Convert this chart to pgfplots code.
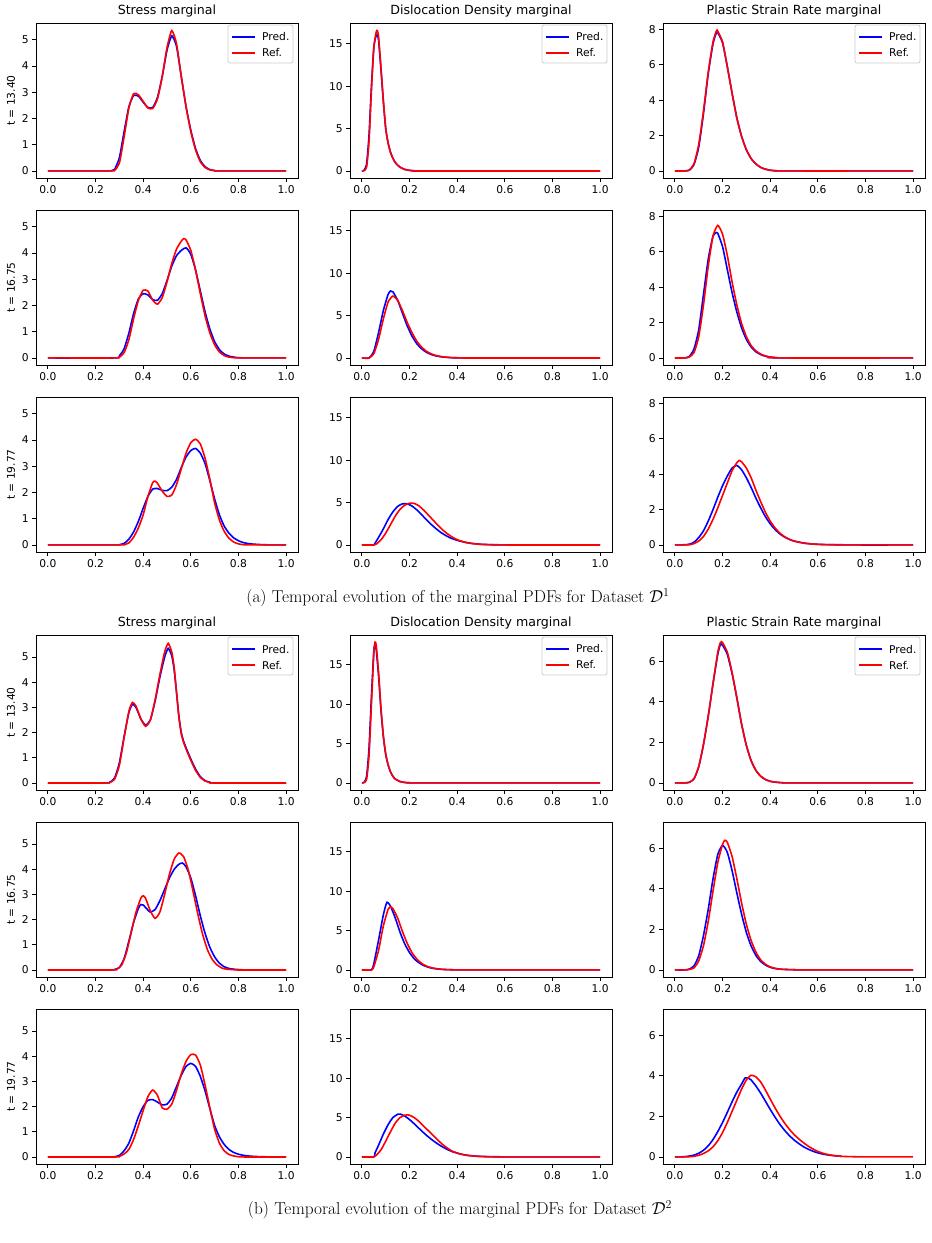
\documentclass[border=0pt]{standalone}
\usepackage{fontspec}
\usepackage{pgfplots}
\pgfplotsset{compat=1.18}
\newfontfamily\djv{DejaVu Sans}
\newcommand{\tf}{\djv\fontsize{10.7}{12.5}\selectfont}
\pgfplotsset{
 mp/.style={
  scale only axis, width=262pt, height=155pt,
  anchor=north west,
  xmin=-0.05, xmax=1.05,
  xtick={0,0.2,0.4,0.6,0.8,1},
  xticklabel style={/pgf/number format/.cd, fixed, fixed zerofill, precision=1},
  /pgf/number format/assume math mode=true,
  tick label style={font=\tf, text=black},
  tick align=outside, tick pos=left,
  major tick length=3.7pt,
  every tick/.style={black, line width=0.85pt},
  axis line style={black, line width=0.85pt},
  title style={font=\djv\fontsize{12.6}{14}\selectfont, yshift=-4pt},
  ylabel style={font=\tf},
 },
 sa/.style={mp, ymin=-0.27, ymax=5.64, ytick={0,1,2,3,4,5}},
 da/.style={mp, ymin=-0.83, ymax=17.45, ytick={0,5,10,15}},
 pa/.style={mp, ymin=-0.4, ymax=8.37, ytick={0,2,4,6,8}},
 sb/.style={mp, ymin=-0.28, ymax=5.88, ytick={0,1,2,3,4,5}},
 db/.style={mp, ymin=-0.9, ymax=18.8, ytick={0,5,10,15}},
 pb/.style={mp, ymin=-0.35, ymax=7.3, ytick={0,2,4,6}},
 predline/.style={color=blue, line width=1.6pt, smooth, tension=0.35},
 refline/.style={color=red, line width=1.6pt, smooth, tension=0.35},
}
\newcommand{\leg}{%
\filldraw[draw=black!20, fill=white, rounded corners=2pt, line width=0.8pt] ([xshift=-70pt,yshift=-2pt]rel axis cs:1,1) rectangle ([xshift=-5pt,yshift=-40pt]rel axis cs:1,1);
\fill[fill=blue] ([xshift=-66pt,yshift=-13pt]rel axis cs:1,1) rectangle ([xshift=-43pt,yshift=-15pt]rel axis cs:1,1);
\fill[fill=red] ([xshift=-66pt,yshift=-29pt]rel axis cs:1,1) rectangle ([xshift=-43pt,yshift=-31pt]rel axis cs:1,1);
\node[anchor=west, font=\tf, inner sep=0pt] at ([xshift=-36pt,yshift=-14pt]rel axis cs:1,1) {Pred.};
\node[anchor=west, font=\tf, inner sep=0pt] at ([xshift=-36pt,yshift=-30pt]rel axis cs:1,1) {Ref.};}
\begin{document}
\begin{tikzpicture}
\useasboundingbox (0,0) rectangle (932pt,-1243pt);
%%%%%%%%%%%%%%%%%%%% GROUP A %%%%%%%%%%%%%%%%%%%%
% row 1
\begin{axis}[sa, at={(36pt,-23pt)}, title={Stress marginal}, ylabel={t = 13.40}]
\addplot[predline] coordinates {(0,0)(0.25,0)(0.27,0.02)(0.28,0.06)(0.30,0.5)(0.32,1.5)(0.34,2.45)(0.36,2.88)(0.38,2.85)(0.40,2.62)(0.42,2.42)(0.44,2.42)(0.46,2.8)(0.48,3.6)(0.50,4.6)(0.52,5.15)(0.54,4.75)(0.56,3.6)(0.58,2.45)(0.60,1.55)(0.62,0.85)(0.64,0.4)(0.66,0.16)(0.68,0.05)(0.70,0.015)(0.72,0)(1,0)};
\addplot[refline] coordinates {(0,0)(0.26,0)(0.28,0.02)(0.30,0.3)(0.32,1.3)(0.34,2.4)(0.36,2.95)(0.38,2.9)(0.40,2.65)(0.42,2.4)(0.44,2.38)(0.46,2.75)(0.48,3.6)(0.50,4.7)(0.52,5.35)(0.54,4.85)(0.56,3.6)(0.58,2.45)(0.60,1.5)(0.62,0.8)(0.64,0.35)(0.66,0.13)(0.68,0.04)(0.70,0.01)(0.72,0)(1,0)};
\leg
\end{axis}
\begin{axis}[da, at={(350pt,-23pt)}, title={Dislocation Density marginal}]
\addplot[predline] coordinates {(0,0)(0.01,0.1)(0.02,0.9)(0.03,4.3)(0.04,10)(0.05,14.6)(0.06,16.0)(0.065,16.0)(0.07,15.4)(0.08,12.0)(0.09,8.2)(0.10,5.0)(0.11,3.3)(0.12,2.2)(0.13,1.5)(0.14,1.0)(0.15,0.68)(0.16,0.45)(0.18,0.18)(0.20,0.07)(0.22,0.02)(0.25,0)(1,0)};
\addplot[refline] coordinates {(0,0)(0.01,0.05)(0.02,0.5)(0.03,3.5)(0.04,9.5)(0.05,14.5)(0.06,16.4)(0.065,16.55)(0.07,15.8)(0.08,12.2)(0.09,8.3)(0.10,5.0)(0.11,3.3)(0.12,2.2)(0.13,1.5)(0.14,1.0)(0.15,0.68)(0.16,0.45)(0.18,0.18)(0.20,0.07)(0.22,0.02)(0.25,0)(1,0)};
\leg
\end{axis}
\begin{axis}[pa, at={(663pt,-23pt)}, title={Plastic Strain Rate marginal}]
\addplot[predline] coordinates {(0,0)(0.04,0)(0.06,0.04)(0.08,0.35)(0.10,1.35)(0.12,3.25)(0.14,5.5)(0.16,7.2)(0.175,7.85)(0.18,7.82)(0.20,7.25)(0.22,5.9)(0.24,4.4)(0.26,3.0)(0.28,1.95)(0.30,1.2)(0.32,0.7)(0.34,0.4)(0.36,0.2)(0.38,0.1)(0.40,0.04)(0.42,0.015)(0.45,0)(1,0)};
\addplot[refline] coordinates {(0,0)(0.04,0)(0.06,0.05)(0.08,0.4)(0.10,1.5)(0.12,3.4)(0.14,5.6)(0.16,7.3)(0.175,7.95)(0.18,7.9)(0.20,7.3)(0.22,5.9)(0.24,4.4)(0.26,3.0)(0.28,1.95)(0.30,1.2)(0.32,0.7)(0.34,0.4)(0.36,0.2)(0.38,0.1)(0.40,0.04)(0.42,0.015)(0.45,0)(1,0)};
\leg
\end{axis}
% row 2
\begin{axis}[sa, at={(36pt,-210pt)}, ylabel={t = 16.75}]
\addplot[predline] coordinates {(0,0)(0.28,0)(0.30,0.08)(0.32,0.35)(0.34,0.95)(0.36,1.7)(0.38,2.25)(0.40,2.45)(0.42,2.4)(0.44,2.22)(0.46,2.2)(0.48,2.45)(0.50,2.95)(0.52,3.5)(0.54,3.9)(0.56,4.1)(0.58,4.2)(0.60,3.95)(0.62,3.35)(0.64,2.55)(0.66,1.75)(0.68,1.1)(0.70,0.62)(0.72,0.32)(0.74,0.15)(0.76,0.07)(0.78,0.03)(0.80,0.01)(0.83,0)(1,0)};
\addplot[refline] coordinates {(0,0)(0.28,0)(0.30,0.03)(0.32,0.2)(0.34,0.7)(0.36,1.5)(0.38,2.2)(0.40,2.58)(0.42,2.55)(0.44,2.2)(0.46,2.05)(0.48,2.3)(0.50,2.9)(0.52,3.6)(0.54,4.15)(0.56,4.45)(0.57,4.55)(0.58,4.5)(0.60,4.1)(0.62,3.35)(0.64,2.45)(0.66,1.6)(0.68,0.95)(0.70,0.5)(0.72,0.23)(0.74,0.09)(0.76,0.03)(0.78,0.01)(0.80,0)(1,0)};
\end{axis}
\begin{axis}[da, at={(350pt,-210pt)}]
\addplot[predline] coordinates {(0,0)(0.03,0)(0.05,0.8)(0.07,3.0)(0.09,5.6)(0.11,7.5)(0.12,7.9)(0.13,7.8)(0.15,6.8)(0.17,5.3)(0.19,3.8)(0.21,2.6)(0.23,1.7)(0.25,1.1)(0.27,0.68)(0.29,0.42)(0.31,0.25)(0.34,0.11)(0.38,0.03)(0.42,0.01)(0.45,0)(1,0)};
\addplot[refline] coordinates {(0,0)(0.03,0)(0.05,0.5)(0.07,2.2)(0.09,4.6)(0.11,6.6)(0.13,7.3)(0.15,6.8)(0.17,5.6)(0.19,4.2)(0.21,3.0)(0.23,2.0)(0.25,1.3)(0.27,0.8)(0.29,0.5)(0.31,0.3)(0.34,0.13)(0.38,0.04)(0.42,0.01)(0.45,0)(1,0)};
\end{axis}
\begin{axis}[pa, at={(663pt,-210pt)}]
\addplot[predline] coordinates {(0,0)(0.04,0)(0.06,0.08)(0.08,0.5)(0.10,1.6)(0.12,3.6)(0.14,5.6)(0.16,6.9)(0.175,7.1)(0.18,7.05)(0.20,6.3)(0.22,5.0)(0.24,3.7)(0.26,2.6)(0.28,1.7)(0.30,1.05)(0.32,0.62)(0.34,0.35)(0.36,0.19)(0.38,0.1)(0.40,0.05)(0.42,0.02)(0.45,0)(1,0)};
\addplot[refline] coordinates {(0,0)(0.04,0)(0.06,0.05)(0.08,0.3)(0.10,1.2)(0.12,3.0)(0.14,5.2)(0.16,6.9)(0.18,7.5)(0.20,7.0)(0.22,5.8)(0.24,4.3)(0.26,3.0)(0.28,1.95)(0.30,1.2)(0.32,0.7)(0.34,0.4)(0.36,0.22)(0.38,0.11)(0.40,0.05)(0.42,0.02)(0.45,0)(1,0)};
\end{axis}
% row 3
\begin{axis}[sa, at={(36pt,-397pt)}, ylabel={t = 19.77}]
\addplot[predline] coordinates {(0,0)(0.28,0)(0.30,0.01)(0.32,0.06)(0.34,0.22)(0.36,0.5)(0.38,0.9)(0.40,1.4)(0.42,1.85)(0.44,2.13)(0.46,2.15)(0.48,2.08)(0.50,2.07)(0.52,2.2)(0.54,2.5)(0.56,2.95)(0.58,3.35)(0.60,3.6)(0.62,3.68)(0.64,3.5)(0.66,3.1)(0.68,2.45)(0.70,1.75)(0.72,1.15)(0.74,0.72)(0.76,0.45)(0.78,0.27)(0.80,0.16)(0.82,0.09)(0.85,0.04)(0.90,0.01)(0.95,0)(1,0)};
\addplot[refline] coordinates {(0,0)(0.30,0)(0.32,0.01)(0.34,0.08)(0.36,0.3)(0.38,0.65)(0.40,1.15)(0.42,1.85)(0.44,2.38)(0.45,2.43)(0.46,2.35)(0.48,2.05)(0.50,1.85)(0.52,1.9)(0.54,2.3)(0.56,2.9)(0.58,3.5)(0.60,3.9)(0.62,4.03)(0.64,3.85)(0.66,3.3)(0.68,2.5)(0.70,1.6)(0.72,0.95)(0.74,0.52)(0.76,0.26)(0.78,0.11)(0.80,0.04)(0.82,0.01)(0.85,0)(1,0)};
\end{axis}
\begin{axis}[da, at={(350pt,-397pt)}]
\addplot[predline] coordinates {(0,0)(0.05,0)(0.055,0.2)(0.07,0.9)(0.09,1.9)(0.11,3.0)(0.13,3.9)(0.15,4.55)(0.17,4.85)(0.19,4.85)(0.21,4.6)(0.23,4.15)(0.25,3.6)(0.27,3.0)(0.29,2.45)(0.31,1.95)(0.33,1.5)(0.35,1.15)(0.37,0.85)(0.40,0.55)(0.43,0.33)(0.46,0.19)(0.50,0.08)(0.55,0.03)(0.60,0.01)(0.65,0)(1,0)};
\addplot[refline] coordinates {(0,0)(0.05,0)(0.06,0.1)(0.08,0.6)(0.10,1.4)(0.12,2.4)(0.14,3.4)(0.16,4.2)(0.18,4.7)(0.20,4.92)(0.22,4.9)(0.24,4.6)(0.26,4.1)(0.28,3.5)(0.30,2.9)(0.32,2.3)(0.34,1.75)(0.36,1.3)(0.38,0.92)(0.40,0.62)(0.43,0.35)(0.46,0.18)(0.50,0.07)(0.55,0.02)(0.60,0.005)(0.65,0)(1,0)};
\end{axis}
\begin{axis}[pa, at={(663pt,-397pt)}]
\addplot[predline] coordinates {(0,0)(0.04,0.01)(0.06,0.04)(0.08,0.15)(0.10,0.42)(0.12,0.8)(0.14,1.35)(0.16,2.0)(0.18,2.7)(0.20,3.35)(0.22,3.9)(0.24,4.35)(0.26,4.5)(0.28,4.25)(0.30,3.8)(0.32,3.25)(0.34,2.65)(0.36,2.1)(0.38,1.6)(0.40,1.2)(0.42,0.88)(0.44,0.63)(0.46,0.45)(0.48,0.32)(0.50,0.22)(0.54,0.11)(0.58,0.05)(0.62,0.025)(0.66,0.015)(0.70,0.01)(0.75,0)(1,0)};
\addplot[refline] coordinates {(0,0)(0.06,0.01)(0.08,0.08)(0.10,0.22)(0.12,0.48)(0.14,0.9)(0.16,1.45)(0.18,2.1)(0.20,2.8)(0.22,3.5)(0.24,4.2)(0.26,4.65)(0.27,4.78)(0.28,4.7)(0.30,4.35)(0.32,3.8)(0.34,3.1)(0.36,2.45)(0.38,1.85)(0.40,1.35)(0.42,0.97)(0.44,0.68)(0.46,0.47)(0.48,0.32)(0.50,0.22)(0.54,0.1)(0.58,0.05)(0.62,0.02)(0.66,0.01)(0.70,0.005)(0.75,0)(1,0)};
\end{axis}
\node[font=\fontsize{17.3}{21}\selectfont] at (458pt,-598pt) {(a) Temporal evolution of the marginal PDFs for Dataset $\mathcal{D}^1$};
%%%%%%%%%%%%%%%%%%%% GROUP B %%%%%%%%%%%%%%%%%%%%
% row 1
\begin{axis}[sb, at={(36pt,-635pt)}, title={Stress marginal}, ylabel={t = 13.40}]
\addplot[predline] coordinates {(0,0)(0.24,0)(0.26,0.03)(0.28,0.2)(0.30,0.8)(0.32,1.85)(0.34,2.8)(0.355,3.13)(0.37,3.0)(0.39,2.55)(0.41,2.3)(0.43,2.5)(0.45,3.25)(0.47,4.2)(0.49,5.0)(0.505,5.35)(0.52,5.05)(0.53,4.5)(0.54,3.6)(0.55,2.65)(0.56,2.0)(0.57,1.65)(0.58,1.4)(0.60,0.95)(0.62,0.55)(0.64,0.25)(0.66,0.09)(0.68,0.03)(0.70,0)(1,0)};
\addplot[refline] coordinates {(0,0)(0.24,0)(0.26,0.02)(0.28,0.15)(0.30,0.7)(0.32,1.8)(0.34,2.85)(0.355,3.2)(0.37,3.05)(0.39,2.55)(0.41,2.25)(0.43,2.5)(0.45,3.3)(0.47,4.3)(0.49,5.2)(0.505,5.55)(0.52,5.2)(0.53,4.6)(0.54,3.6)(0.55,2.6)(0.56,1.95)(0.57,1.6)(0.58,1.35)(0.60,0.9)(0.62,0.5)(0.64,0.22)(0.66,0.08)(0.68,0.02)(0.70,0)(1,0)};
\leg
\end{axis}
\begin{axis}[db, at={(350pt,-635pt)}, title={Dislocation Density marginal}]
\addplot[predline] coordinates {(0,0)(0.01,0.1)(0.02,0.9)(0.03,4.5)(0.04,11)(0.05,16.8)(0.055,17.5)(0.06,17.0)(0.07,13.6)(0.08,9.3)(0.09,5.9)(0.10,3.6)(0.11,2.3)(0.12,1.4)(0.13,0.85)(0.14,0.5)(0.16,0.18)(0.18,0.06)(0.20,0.02)(0.23,0)(1,0)};
\addplot[refline] coordinates {(0,0)(0.01,0.05)(0.02,0.5)(0.03,3.5)(0.04,10)(0.05,16.5)(0.055,17.9)(0.06,17.5)(0.07,14)(0.08,9.5)(0.09,6.0)(0.10,3.7)(0.11,2.3)(0.12,1.4)(0.13,0.85)(0.14,0.5)(0.16,0.18)(0.18,0.06)(0.20,0.02)(0.23,0)(1,0)};
\leg
\end{axis}
\begin{axis}[pb, at={(663pt,-635pt)}, title={Plastic Strain Rate marginal}]
\addplot[predline] coordinates {(0,0)(0.04,0)(0.06,0.03)(0.08,0.2)(0.10,0.8)(0.12,1.9)(0.14,3.3)(0.16,4.9)(0.18,6.35)(0.19,6.8)(0.195,6.85)(0.20,6.8)(0.22,6.35)(0.24,5.4)(0.26,4.2)(0.28,2.9)(0.30,1.85)(0.32,1.1)(0.34,0.62)(0.36,0.33)(0.38,0.17)(0.40,0.08)(0.42,0.04)(0.45,0.01)(0.50,0)(1,0)};
\addplot[refline] coordinates {(0,0)(0.04,0)(0.06,0.03)(0.08,0.2)(0.10,0.8)(0.12,1.9)(0.14,3.3)(0.16,4.9)(0.18,6.45)(0.19,6.9)(0.195,6.97)(0.20,6.93)(0.22,6.45)(0.24,5.45)(0.26,4.2)(0.28,2.9)(0.30,1.85)(0.32,1.1)(0.34,0.62)(0.36,0.33)(0.38,0.17)(0.40,0.08)(0.42,0.04)(0.45,0.01)(0.50,0)(1,0)};
\leg
\end{axis}
% row 2
\begin{axis}[sb, at={(36pt,-822pt)}, ylabel={t = 16.75}]
\addplot[predline] coordinates {(0,0)(0.26,0)(0.28,0.02)(0.30,0.1)(0.32,0.45)(0.34,1.15)(0.36,1.9)(0.38,2.45)(0.39,2.6)(0.40,2.58)(0.42,2.38)(0.43,2.3)(0.45,2.4)(0.47,2.75)(0.49,3.2)(0.51,3.65)(0.53,4.0)(0.55,4.2)(0.565,4.25)(0.58,4.1)(0.60,3.65)(0.62,2.95)(0.64,2.15)(0.66,1.45)(0.68,0.9)(0.70,0.52)(0.72,0.27)(0.74,0.13)(0.76,0.06)(0.78,0.03)(0.81,0.01)(0.84,0)(1,0)};
\addplot[refline] coordinates {(0,0)(0.27,0)(0.29,0.03)(0.31,0.2)(0.33,0.7)(0.35,1.5)(0.37,2.3)(0.39,2.85)(0.40,2.95)(0.41,2.85)(0.43,2.35)(0.45,2.05)(0.47,2.3)(0.49,3.0)(0.51,3.8)(0.53,4.4)(0.55,4.65)(0.57,4.5)(0.59,3.95)(0.61,3.1)(0.63,2.2)(0.65,1.4)(0.67,0.8)(0.69,0.42)(0.71,0.2)(0.73,0.08)(0.75,0.03)(0.78,0.01)(0.80,0)(1,0)};
\end{axis}
\begin{axis}[db, at={(350pt,-822pt)}]
\addplot[predline] coordinates {(0,0)(0.04,0)(0.05,0.8)(0.07,3.8)(0.09,7.0)(0.105,8.6)(0.12,8.1)(0.14,6.6)(0.16,4.8)(0.18,3.3)(0.20,2.2)(0.22,1.4)(0.24,0.9)(0.26,0.55)(0.29,0.25)(0.33,0.08)(0.38,0.02)(0.42,0)(1,0)};
\addplot[refline] coordinates {(0,0)(0.04,0)(0.05,0.4)(0.07,2.5)(0.09,5.6)(0.11,7.7)(0.12,8.0)(0.13,7.8)(0.15,6.6)(0.17,4.9)(0.19,3.4)(0.21,2.2)(0.23,1.4)(0.25,0.85)(0.27,0.5)(0.30,0.22)(0.34,0.07)(0.38,0.02)(0.42,0)(1,0)};
\end{axis}
\begin{axis}[pb, at={(663pt,-822pt)}]
\addplot[predline] coordinates {(0,0)(0.04,0)(0.06,0.04)(0.08,0.2)(0.10,0.7)(0.12,1.7)(0.14,3.0)(0.16,4.5)(0.18,5.7)(0.20,6.15)(0.22,5.8)(0.24,4.9)(0.26,3.8)(0.28,2.75)(0.30,1.85)(0.32,1.18)(0.34,0.72)(0.36,0.42)(0.38,0.24)(0.40,0.13)(0.42,0.07)(0.45,0.03)(0.50,0.01)(0.55,0)(1,0)};
\addplot[refline] coordinates {(0,0)(0.04,0)(0.06,0.02)(0.08,0.1)(0.10,0.45)(0.12,1.2)(0.14,2.4)(0.16,3.9)(0.18,5.3)(0.20,6.2)(0.21,6.4)(0.22,6.3)(0.24,5.6)(0.26,4.5)(0.28,3.3)(0.30,2.25)(0.32,1.45)(0.34,0.88)(0.36,0.5)(0.38,0.28)(0.40,0.15)(0.42,0.08)(0.45,0.03)(0.50,0.01)(0.55,0)(1,0)};
\end{axis}
% row 3
\begin{axis}[sb, at={(36pt,-1009pt)}, ylabel={t = 19.77}]
\addplot[predline] coordinates {(0,0)(0.26,0)(0.28,0.01)(0.30,0.06)(0.32,0.25)(0.34,0.55)(0.36,1.05)(0.38,1.6)(0.40,2.0)(0.42,2.25)(0.44,2.28)(0.46,2.18)(0.48,2.07)(0.50,2.1)(0.52,2.35)(0.54,2.8)(0.56,3.25)(0.58,3.6)(0.60,3.72)(0.62,3.6)(0.64,3.2)(0.66,2.62)(0.68,1.92)(0.70,1.25)(0.72,0.8)(0.74,0.5)(0.76,0.3)(0.78,0.18)(0.80,0.11)(0.83,0.05)(0.87,0.02)(0.92,0.005)(0.96,0)(1,0)};
\addplot[refline] coordinates {(0,0)(0.28,0)(0.30,0.02)(0.32,0.12)(0.34,0.3)(0.36,0.7)(0.38,1.25)(0.40,1.85)(0.42,2.4)(0.44,2.66)(0.46,2.45)(0.48,1.95)(0.50,1.9)(0.52,2.1)(0.54,2.65)(0.56,3.3)(0.58,3.8)(0.60,4.07)(0.62,4.05)(0.64,3.65)(0.66,2.85)(0.68,1.95)(0.70,1.1)(0.72,0.55)(0.74,0.25)(0.76,0.1)(0.78,0.04)(0.80,0.01)(0.83,0)(1,0)};
\end{axis}
\begin{axis}[db, at={(350pt,-1009pt)}]
\addplot[predline] coordinates {(0,0)(0.05,0)(0.055,0.5)(0.07,1.5)(0.09,2.9)(0.11,4.1)(0.13,5.0)(0.15,5.42)(0.16,5.45)(0.18,5.2)(0.20,4.75)(0.22,4.2)(0.24,3.62)(0.26,3.05)(0.28,2.52)(0.30,2.05)(0.32,1.62)(0.34,1.25)(0.36,0.93)(0.38,0.67)(0.41,0.4)(0.44,0.22)(0.48,0.1)(0.53,0.04)(0.60,0.01)(0.65,0)(1,0)};
\addplot[refline] coordinates {(0,0)(0.05,0)(0.06,0.2)(0.08,0.9)(0.10,2.0)(0.12,3.2)(0.14,4.3)(0.16,5.0)(0.18,5.3)(0.19,5.35)(0.20,5.3)(0.22,5.0)(0.24,4.5)(0.26,3.9)(0.28,3.3)(0.30,2.7)(0.32,2.1)(0.34,1.55)(0.36,1.1)(0.38,0.72)(0.41,0.4)(0.44,0.2)(0.48,0.08)(0.53,0.02)(0.60,0)(1,0)};
\end{axis}
\begin{axis}[pb, at={(663pt,-1009pt)}]
\addplot[predline] coordinates {(0,0)(0.04,0.01)(0.06,0.04)(0.08,0.09)(0.10,0.18)(0.12,0.33)(0.14,0.55)(0.16,0.86)(0.18,1.25)(0.20,1.7)(0.22,2.2)(0.24,2.72)(0.26,3.2)(0.28,3.6)(0.295,3.9)(0.31,3.88)(0.32,3.8)(0.34,3.5)(0.36,3.15)(0.38,2.75)(0.40,2.35)(0.42,1.97)(0.44,1.62)(0.46,1.32)(0.48,1.06)(0.50,0.84)(0.52,0.66)(0.54,0.5)(0.56,0.38)(0.58,0.28)(0.60,0.2)(0.63,0.12)(0.66,0.07)(0.70,0.03)};
\addplot[refline] coordinates {(0,0)(0.06,0.01)(0.08,0.03)(0.10,0.08)(0.12,0.17)(0.14,0.3)(0.16,0.5)(0.18,0.8)(0.20,1.2)(0.22,1.7)(0.24,2.25)(0.26,2.8)(0.28,3.35)(0.30,3.8)(0.32,4.03)(0.34,3.95)(0.36,3.7)(0.38,3.3)(0.40,2.86)(0.42,2.43)(0.44,2.03)(0.46,1.68)(0.48,1.37)(0.50,1.11)(0.52,0.89)(0.54,0.7)(0.56,0.53)(0.58,0.39)(0.60,0.27)(0.63,0.15)(0.66,0.08)(0.70,0.03)(0.75,0.01)(0.80,0)(1,0)};
\end{axis}
\node[font=\fontsize{17.3}{21}\selectfont] at (460pt,-1210pt) {(b) Temporal evolution of the marginal PDFs for Dataset $\mathcal{D}^2$};
\end{tikzpicture}
\end{document}
